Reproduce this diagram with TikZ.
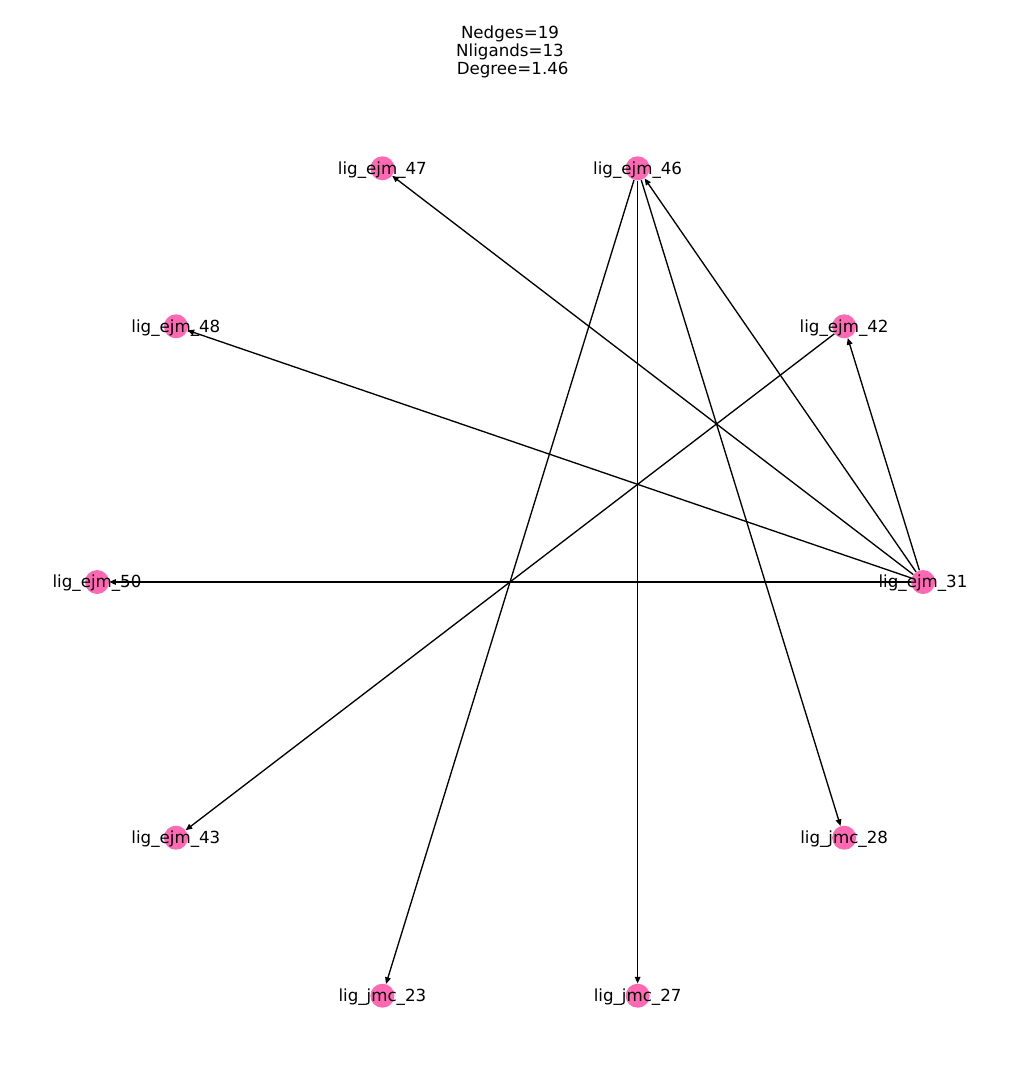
\documentclass[tikz,border=0pt]{standalone}
\usepackage{fontspec}
\setmainfont{DejaVu Sans}
\usetikzlibrary{arrows.meta,backgrounds}
\definecolor{nodepink}{HTML}{FF69B4}
\begin{document}
\begin{tikzpicture}[x=0.75pt,y=-0.75pt,
  dot/.style={circle,fill=nodepink,minimum size=18pt,inner sep=0pt},
  lbl/.style={inner sep=0pt,yshift=-1.2pt,font=\fontsize{12.5}{15}\selectfont},
  edge/.style={line width=1pt,-{Triangle[length=5pt,width=4.2pt]}}]
\useasboundingbox (0,0) rectangle (1019,1092);
% nodes (circular layout)
\node[dot] (n31) at ({510+413*cos(0)},{582-435*sin(0)}) {};
\node[dot] (n42) at ({510+413*cos(36)},{582-435*sin(36)}) {};
\node[dot] (n46) at ({510+413*cos(72)},{582-435*sin(72)}) {};
\node[dot] (n47) at ({510+413*cos(108)},{582-435*sin(108)}) {};
\node[dot] (n48) at ({510+413*cos(144)},{582-435*sin(144)}) {};
\node[dot] (n50) at ({510+413*cos(180)},{582-435*sin(180)}) {};
\node[dot] (n43) at ({510+413*cos(216)},{582-435*sin(216)}) {};
\node[dot] (n23) at ({510+413*cos(252)},{582-435*sin(252)}) {};
\node[dot] (n27) at ({510+413*cos(288)},{582-435*sin(288)}) {};
\node[dot] (n28) at ({510+413*cos(324)},{582-435*sin(324)}) {};
% edges
\begin{scope}[on background layer]
\draw[edge] (n31) -- (n47);
\draw[edge] (n31) -- (n46);
\draw[edge] (n31) -- (n48);
\draw[edge] (n31) -- (n42);
\draw[edge] (n31) -- (n50);
\draw[edge] (n46) -- (n23);
\draw[edge] (n46) -- (n27);
\draw[edge] (n46) -- (n28);
\draw[edge] (n42) -- (n43);
\end{scope}
% labels
\node[lbl] (t31) at (n31) {lig\_ejm\_31};
\node[lbl] (t42) at (n42) {lig\_ejm\_42};
\node[lbl] (t46) at (n46) {lig\_ejm\_46};
\node[lbl] (t47) at (n47) {lig\_ejm\_47};
\node[lbl] (t48) at (n48) {lig\_ejm\_48};
\node[lbl] (t50) at (n50) {lig\_ejm\_50};
\node[lbl] (t43) at (n43) {lig\_ejm\_43};
\node[lbl] (t23) at (n23) {lig\_jmc\_23};
\node[lbl] (t27) at (n27) {lig\_jmc\_27};
\node[lbl] (t28) at (n28) {lig\_jmc\_28};
% title
\node[inner sep=0pt,align=center,font=\fontsize{12.5}{13.2}\selectfont] (title) at (510,52)
  {Nedges=19\\Nligands=13\\\hspace*{0.32em}Degree=1.46};
\end{tikzpicture}
\end{document}
